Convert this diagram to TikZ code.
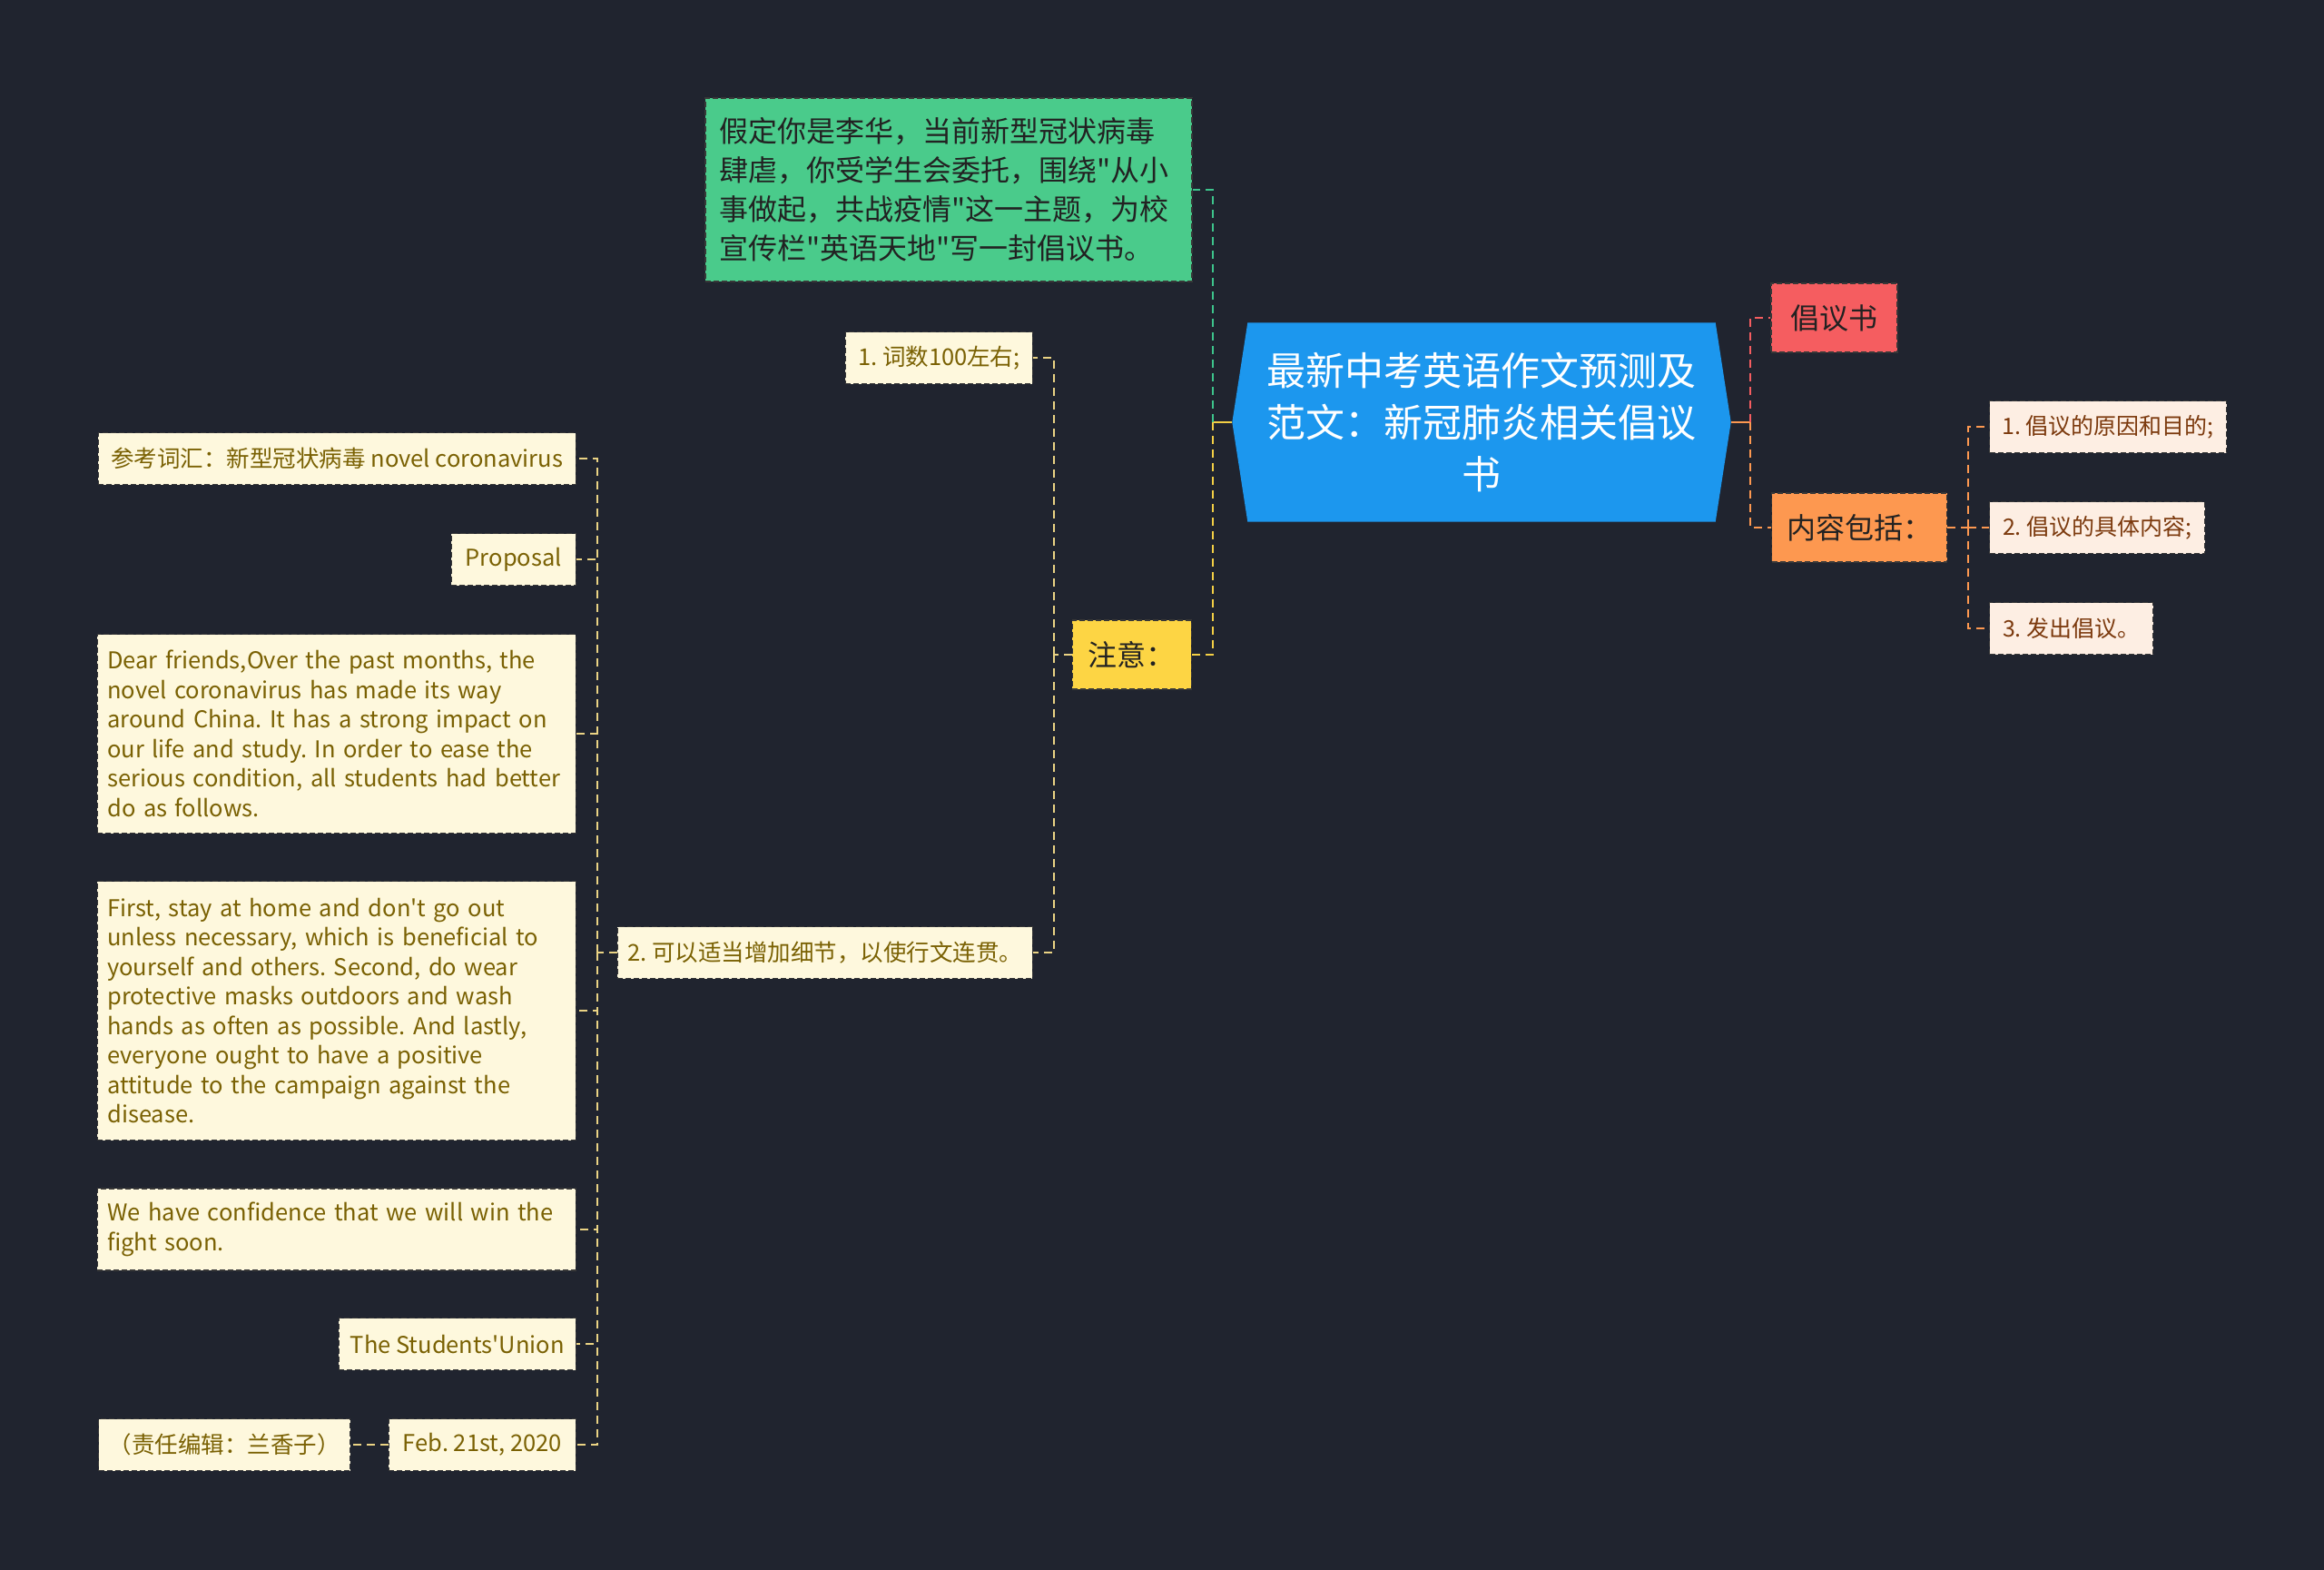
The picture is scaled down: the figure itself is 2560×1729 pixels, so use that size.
\documentclass[tikz,border=0pt]{standalone}
\usepackage{fontspec}
\setmainfont{Noto Sans CJK SC}[Ligatures=TeXOff]
\frenchspacing
\usetikzlibrary{backgrounds}
\definecolor{bgc}{HTML}{20242F}
\definecolor{greenc}{HTML}{4ACB8B}
\definecolor{greenl}{HTML}{3DC48C}
\definecolor{rootc}{HTML}{1C97EE}
\definecolor{redc}{HTML}{F55D60}
\definecolor{orangec}{HTML}{FD9850}
\definecolor{yellowc}{HTML}{FDD544}
\definecolor{yellowl}{HTML}{F3CF45}
\definecolor{creaml}{HTML}{EAD384}
\definecolor{creamc}{HTML}{FEF8DD}
\definecolor{olivec}{HTML}{7A6103}
\definecolor{peachc}{HTML}{FDEEE3}
\definecolor{brownc}{HTML}{7C3A0E}
\definecolor{bordc}{HTML}{383838}
\definecolor{darktext}{HTML}{222222}
\tikzset{
  box/.style={draw=bordc, line width=1.4pt, dash pattern=on 6pt off 3pt, inner xsep=11pt, inner ysep=0pt, minimum height=57pt},
  leaf/.style={box, fill=creamc, text=olivec, font=\fontsize{25.5}{32.5}\selectfont},
  pleaf/.style={box, fill=peachc, text=brownc, font=\fontsize{25}{32.5}\selectfont},
  mainbox/.style={box, text=darktext, font=\fontsize{32}{43}\selectfont, minimum height=76pt},
  link/.style={line width=2.4pt, dash pattern=on 9pt off 6pt},
  stub/.style={line width=2.6pt},
}
\begin{document}
\begin{tikzpicture}[x=1pt,y=-1pt]
\begin{scope}[on background layer]
\fill[bgc] (0,0) rectangle (2560,1729);
\end{scope}
\useasboundingbox (0,0) rectangle (2560,1729);

% root
\node[text=white, font=\fontsize{43}{57}\selectfont, align=center, text width=500pt, minimum width=549pt, minimum height=219pt, inner sep=0pt] (root) at (1632,465)
  {最新中考英语作文预测及\\范文：新冠肺炎相关倡议\\书};
\begin{scope}[on background layer]
\fill[rootc] ([xshift=17pt]root.north west) -- (root.west) -- ([xshift=17pt]root.south west) -- ([xshift=-17pt]root.south east) -- (root.east) -- ([xshift=-17pt]root.north east) -- cycle;
\end{scope}

% green task box
\node[box, fill=greenc, text=darktext, font=\fontsize{32}{43}\selectfont, align=left, text width=506pt, inner xsep=15pt, minimum height=202pt] (task) at (1045,209)
  {假定你是李华，当前新型冠状病毒\\肆虐，你受学生会委托，围绕"从小\\事做起，共战疫情"这一主题，为校\\宣传栏"英语天地"写一封倡议书。};

% right branch
\node[mainbox, fill=redc, minimum width=139pt] (cyx) at (2020.5,350) {倡议书};
\node[mainbox, fill=orangec, minimum width=193pt, anchor=west] (nr) at (1951,581) {内容包括：};
\node[pleaf, anchor=west, minimum width=261pt] (p1) at (2191,470) {1. 倡议的原因和目的;};
\node[pleaf, anchor=west, minimum width=237pt] (p2) at (2191,581) {2. 倡议的具体内容;};
\node[pleaf, anchor=west, minimum width=180pt] (p3) at (2191,692) {3. 发出倡议。};

% left branch
\node[mainbox, fill=yellowc, minimum width=131pt, anchor=east] (zy) at (1313,721) {注意：};
\node[leaf, anchor=east, minimum width=206pt] (z1) at (1138,394) {1. 词数100左右;};
\node[leaf, anchor=east, minimum width=457pt] (z2) at (1138,1049) {2. 可以适当增加细节，以使行文连贯。};

\node[leaf, anchor=east, minimum width=526pt] (c1) at (635,505) {参考词汇：新型冠状病毒 novel coronavirus};
\node[leaf, anchor=east, minimum width=137pt] (c2) at (635,616) {Proposal};
\node[leaf, anchor=east, align=left, text width=505pt, minimum height=219pt] (c3) at (635,808)
  {Dear friends,Over the past months, the\\novel coronavirus has made its way\\around China. It has a strong impact on\\our life and study. In order to ease the\\serious condition, all students had better\\do as follows.};
\node[leaf, anchor=east, align=left, text width=505pt, minimum height=285pt] (c4) at (635,1113)
  {First, stay at home and don't go out\\unless necessary, which is beneficial to\\yourself and others. Second, do wear\\protective masks outdoors and wash\\hands as often as possible. And lastly,\\everyone ought to have a positive\\attitude to the campaign against the\\disease.};
\node[leaf, anchor=east, align=left, text width=505pt, minimum height=90pt] (c5) at (635,1354)
  {We have confidence that we will win the\\fight soon.};
\node[leaf, anchor=east, minimum width=261pt] (c6) at (635,1480) {The Students'Union};
\node[leaf, anchor=east, minimum width=206pt] (c7) at (635,1591) {Feb. 21st, 2020};
\node[leaf, anchor=west, minimum width=276pt] (ed) at (108,1591) {（责任编辑：兰香子）};

% bus coordinates
\coordinate (bL) at (1336,465);
\coordinate (bR) at (1928,465);
\coordinate (bN) at (2168,581);
\coordinate (bZ) at (1161,721);
\coordinate (bT) at (658,1049);

% connectors from root
\draw[stub, yellowl] (root.west) -- (bL);
\draw[link, greenl] (bL) |- (task.east);
\draw[link, yellowl] (bL) |- (zy.east);
\draw[stub, orangec] (root.east) -- (bR);
\draw[link, redc] (bR) |- (cyx.west);
\draw[link, orangec] (bR) |- (nr.west);

% 内容包括 children
\draw[link, orangec] (nr.east) -- (bN);
\draw[link, orangec] (bN) |- (p1.west);
\draw[link, orangec] (bN) |- (p2.west);
\draw[link, orangec] (bN) |- (p3.west);

% 注意 children
\draw[link, creaml] (zy.west) -- (bZ);
\draw[link, creaml] (bZ) |- (z1.east);
\draw[link, creaml] (bZ) |- (z2.east);

% item 2 children
\draw[link, creaml] (z2.west) -- (bT);
\foreach \n in {c1,c2,c3,c4,c5,c6,c7}{
  \draw[link, creaml] (bT) |- (\n.east);
}
\draw[link, creaml] (c7.west) -- (ed.east);
\end{tikzpicture}
\end{document}
